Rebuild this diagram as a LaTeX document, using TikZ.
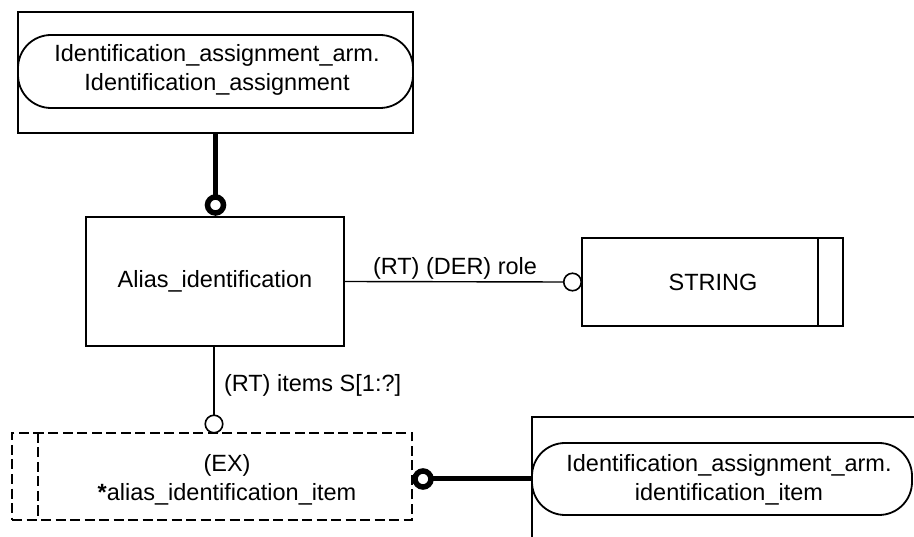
\documentclass[tikz,border=0pt]{standalone}
\usepackage{fontspec}
\setmainfont{Liberation Sans}
\begin{document}
\begin{tikzpicture}[x=1pt,y=-1pt,
  every node/.style={inner sep=0pt, outer sep=0pt},
  txt/.style={font=\fontsize{23.5}{29.5}\selectfont, align=center},
  entbox/.style={draw, line width=1.8pt},
  pill/.style={draw, line width=1.8pt, rounded corners=33pt},
  dashbox/.style={draw, line width=1.8pt, dash pattern=on 10pt off 4.5pt},
  thin/.style={line width=1.4pt},
  thick/.style={line width=5pt},
  ocirc/.style={draw, circle, line width=1.6pt, minimum size=17.5pt, fill=white},
  tcirc/.style={draw, circle, line width=5.5pt, minimum size=16pt, fill=white}
]
\useasboundingbox (0,0) rectangle (914,537);

% top box with pill
\node[entbox, minimum width=395pt, minimum height=121pt] (iabox) at (215.5,72.5) {};
\node[pill, minimum width=395pt, minimum height=73pt] (iapill) at (215.5,71.5) {};
\node[txt] (iatext) at (217,70) {Identification\_assignment\_arm.\\Identification\_assignment};

% Alias_identification
\node[entbox, minimum width=258pt, minimum height=129pt] (alias) at (215,281.5) {};
\node[txt] (aliastext) at (215,281) {Alias\_identification};

% STRING
\node[entbox, minimum width=261pt, minimum height=88pt] (string) at (712.5,282) {};
\draw[line width=1.8pt] ([xshift=-25pt]string.north east) -- ([xshift=-25pt]string.south east);
\node[txt] (stringtext) at (713,282) {STRING};

% dashed select box
\node[dashbox, minimum width=400pt, minimum height=87pt] (ex) at (212,476.5) {};
\draw[line width=1.8pt, dash pattern=on 10pt off 4.5pt] ([xshift=26pt]ex.north west) -- ([xshift=26pt]ex.south west);
\node[txt] (extext) at (227,480) {(EX)\\{\bfseries *}alias\_identification\_item};

% bottom right box with pill
\node[entbox, minimum width=400pt, minimum height=140pt] (itbox) at (732,487) {};
\node[pill, minimum width=380pt, minimum height=72pt] (itpill) at (722,479) {};
\node[txt] (ittext) at (729,480) {Identification\_assignment\_arm.\\identification\_item};

% circles
\node[tcirc] (c1) at (215.5,205) {};
\node[ocirc] (c2) at (572.5,282) {};
\node[ocirc] (c3) at (214,424) {};
\node[tcirc] (c4) at (423,479) {};

% connectors
\draw[thick] (iabox.south -| c1) -- (c1.north);
\draw[thin] (alias.east) -- (c2.west);
\draw[thin] (alias.south -| c3) -- (c3.north);
\draw[thick] (c4.east) -- (itpill.west);

% labels
\node[txt, anchor=base west] (lrole) at (373,275) {(RT) (DER) role};
\node[txt, anchor=west] (litems) at (224,385) {(RT) items S[1:?]};
\end{tikzpicture}
\end{document}
